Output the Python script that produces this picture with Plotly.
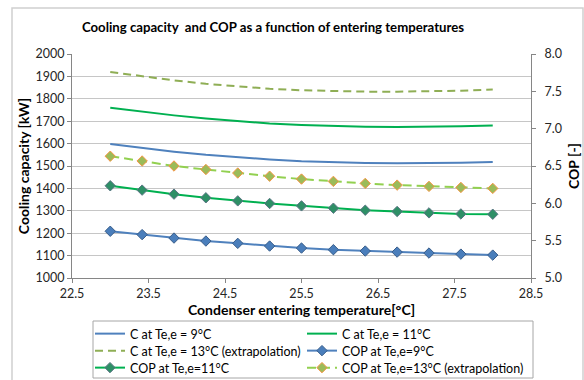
import plotly.graph_objects as go

# Condenser entering temperature [°C]
temps = [23.0 + i * 5.0 / 12.0 for i in range(13)]

# Cooling capacity [kW] for evaporator entering temperatures 9, 11 and 13 °C
cap_9 = [1598, 1580, 1564, 1550, 1538, 1529, 1521, 1516, 1513, 1512, 1512, 1514, 1518]
cap_11 = [1760, 1742, 1726, 1712, 1700, 1690, 1683, 1678, 1675, 1674, 1675, 1677, 1681]
cap_13 = [1920, 1900, 1882, 1867, 1855, 1845, 1838, 1834, 1832, 1832, 1833, 1836, 1841]

# COP [-]
cop_9 = [5.626, 5.581, 5.535, 5.495, 5.464, 5.428, 5.401, 5.379, 5.361, 5.347, 5.334, 5.320, 5.307]
cop_11 = [6.235, 6.177, 6.123, 6.074, 6.033, 5.998, 5.966, 5.935, 5.908, 5.891, 5.872, 5.858, 5.854]
cop_13 = [6.631, 6.567, 6.500, 6.453, 6.406, 6.363, 6.325, 6.294, 6.267, 6.244, 6.227, 6.213, 6.200]

names = [
    "C at Te,e = 9°C",
    "C at Te,e = 11°C",
    "C at Te,e = 13°C (extrapolation)",
    "COP at Te,e=9°C",
    "COP at Te,e=11°C",
    "COP at Te,e=13°C (extrapolation)",
]

FONT = "Lato"

# plot area in pixels (used to place legend entries / frames in paper units)
W, H = 584, 380
M_L, M_R, M_T, M_B = 72, 53, 54, 102
PW, PH = W - M_L - M_R, H - M_T - M_B


def px_x(px):
    return (px - M_L) / PW


def px_y(py):
    return (H - M_B - py) / PH


fig = go.Figure()

fig.add_trace(go.Scatter(x=temps, y=cap_9, name=names[0], mode="lines", legend="legend",
                         line=dict(color="#4F81BD", width=2)))
fig.add_trace(go.Scatter(x=temps, y=cap_11, name=names[1], mode="lines", legend="legend2",
                         line=dict(color="#00B050", width=2)))
fig.add_trace(go.Scatter(x=temps, y=cap_13, name=names[2], mode="lines", legend="legend3",
                         line=dict(color="#8FAE55", width=2, dash="8px,5px")))
fig.add_trace(go.Scatter(x=temps, y=cop_9, name=names[3], mode="lines+markers", yaxis="y2",
                         legend="legend4",
                         line=dict(color="#4F81BD", width=2),
                         marker=dict(symbol="diamond", size=8, color="#4A7EBB",
                                     line=dict(color="#385D8A", width=1))))
fig.add_trace(go.Scatter(x=temps, y=cop_11, name=names[4], mode="lines+markers", yaxis="y2",
                         legend="legend5",
                         line=dict(color="#00B050", width=2),
                         marker=dict(symbol="diamond", size=8, color="#2E8F66",
                                     line=dict(color="#5B7684", width=1))))
fig.add_trace(go.Scatter(x=temps, y=cop_13, name=names[5], mode="lines+markers", yaxis="y2",
                         legend="legend6",
                         line=dict(color="#92D050", width=2, dash="9px,5px"),
                         marker=dict(symbol="diamond", size=8, color="#9BBB59",
                                     line=dict(color="#F79646", width=1))))

axis_line = "#868686"
grid = "#C6C6C6"
tick_font = dict(family=FONT, size=12.5, color="#262626")
axis_title_font = dict(family=FONT, size=14, color="#000000")


def legend_entry(px, py):
    return dict(orientation="h", x=px_x(px), xanchor="left", y=px_y(py), yanchor="middle",
                borderwidth=0, bgcolor="rgba(0,0,0,0)",
                font=dict(family=FONT, size=12.5, color="#000000"),
                tracegroupgap=0, itemwidth=30)


COL1, COL2 = 90, 302
ROWS = [334, 351, 368]

fig.update_layout(
    width=W,
    height=H,
    margin=dict(l=M_L, r=M_R, t=M_T, b=M_B, autoexpand=False),
    paper_bgcolor="white",
    plot_bgcolor="white",
    font=dict(family=FONT, color="#000000"),
    title=dict(text="<b>Cooling capacity  and COP as a function of entering temperatures</b>",
               xref="container", x=273 / W, xanchor="center",
               yref="container", y=1 - 27 / H, yanchor="middle",
               font=dict(family=FONT, size=13.2, color="#000000")),
    xaxis=dict(range=[22.5, 28.5], tick0=22.5, dtick=1, tickformat=".1f",
               showgrid=False, showline=True, linecolor=axis_line, linewidth=1,
               ticks="outside", ticklen=4, tickcolor=axis_line,
               tickfont=tick_font, zeroline=False,
               title=dict(text="<b>Condenser entering temperature[°C]</b>",
                          font=axis_title_font, standoff=4)),
    yaxis=dict(range=[1000, 2000], dtick=100, showgrid=True, gridcolor=grid, gridwidth=1,
               showline=True, linecolor=axis_line, linewidth=1,
               ticks="outside", ticklen=4, tickcolor=axis_line,
               tickfont=tick_font, zeroline=False,
               title=dict(text="<b>Cooling capacity [kW]</b>",
                          font=axis_title_font, standoff=2)),
    yaxis2=dict(range=[5, 8], dtick=0.5, tickformat=".1f", overlaying="y", side="right",
                showgrid=False, showline=True, linecolor=axis_line, linewidth=1,
                ticks="outside", ticklen=4, tickcolor=axis_line,
                tickfont=tick_font, zeroline=False, ticklabelstandoff=6,
                title=dict(text="<b>COP [-]</b>", font=axis_title_font, standoff=8)),
    legend=legend_entry(COL1, ROWS[0]),
    legend2=legend_entry(COL2, ROWS[0]),
    legend3=legend_entry(COL1, ROWS[1]),
    legend4=legend_entry(COL2, ROWS[1]),
    legend5=legend_entry(COL1, ROWS[2]),
    legend6=legend_entry(COL2, ROWS[2]),
    showlegend=True,
)

# Outer chart frame
fig.add_shape(type="rect", xref="paper", yref="paper",
              x0=px_x(12), x1=px_x(583), y0=px_y(381), y1=px_y(8),
              line=dict(color="#D0D0D0", width=1.5), fillcolor="rgba(0,0,0,0)", layer="below")

# Legend frame
fig.add_shape(type="rect", xref="paper", yref="paper",
              x0=px_x(93), x1=px_x(533), y0=px_y(378), y1=px_y(321),
              line=dict(color="#A6A6A6", width=1), fillcolor="white", layer="below")

fig.write_html("out.html")
